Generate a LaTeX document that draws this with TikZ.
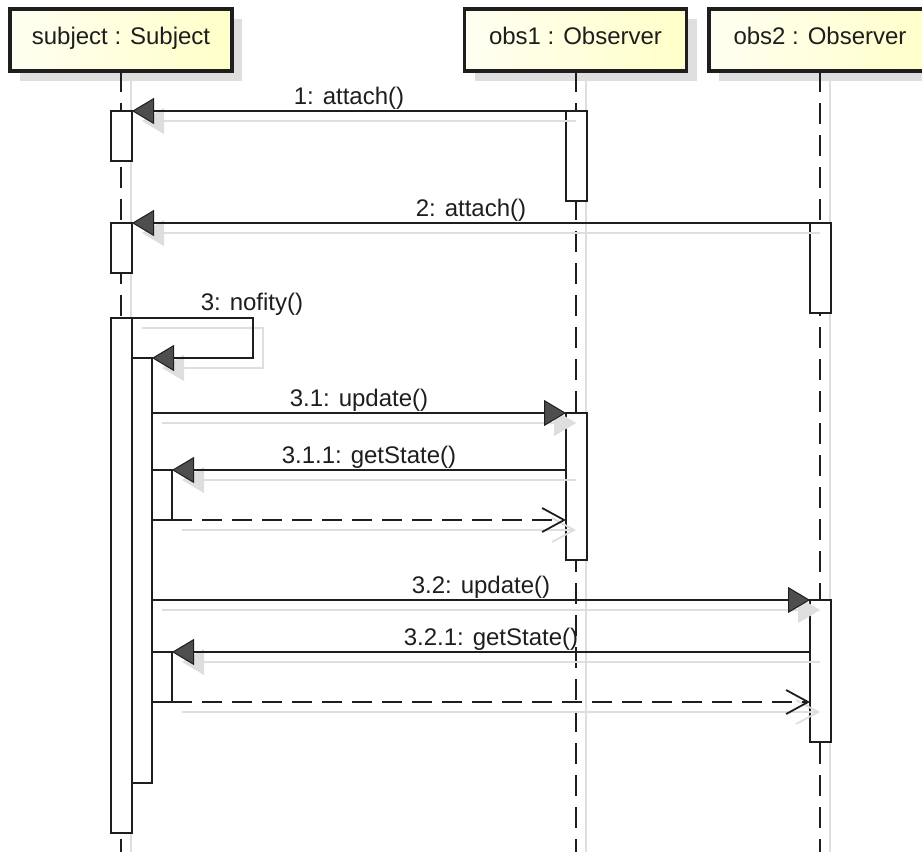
\documentclass[tikz,border=0pt]{standalone}
\usepackage{fontspec}
\setmainfont{Liberation Sans}
\usetikzlibrary{arrows.meta,backgrounds,fit,calc}

\definecolor{headL}{RGB}{255,255,242}
\definecolor{headR}{RGB}{255,255,200}
\definecolor{shade}{RGB}{222,222,222}
\definecolor{ink}{RGB}{30,30,30}
\definecolor{tipfill}{RGB}{78,78,78}
\newcommand\umlfont{\fontsize{24pt}{28pt}\selectfont}

\tikzset{
  head/.style={draw=ink, line width=3.5pt, outer sep=0pt, inner sep=0pt,
    minimum width=222pt, minimum height=62pt,
    left color=headL, right color=headR,
    text height=18pt, text depth=10pt, font=\umlfont, text=ink},
  headshadow/.style={fill=shade},
  lifeline/.style={draw=ink, line width=2pt, dash pattern=on 21pt off 11pt},
  lifeshadow/.style={draw=shade, line width=2pt},
  actbar/.style={draw=ink, fill=white, line width=1.8pt, inner sep=0pt, outer sep=0pt},
  msg/.style={draw=ink, line width=1.8pt,
    -{Triangle[length=22pt,width=26pt,fill=tipfill,line width=1pt]}},
  ret/.style={draw=ink, line width=1.8pt, dash pattern=on 20pt off 10pt,
    -{Straight Barb[length=22pt,width=24pt]}},
  msgshadow/.style={draw=shade, line width=1.8pt,
    transform canvas={shift={(10pt,-10pt)}},
    -{Triangle[length=22pt,width=26pt,fill=shade,line width=1pt]}},
  retshadow/.style={draw=shade, line width=1.8pt,
    transform canvas={shift={(10pt,-10pt)}},
    -{Straight Barb[length=22pt,width=24pt]}},
  msglabel/.style={font=\umlfont, text=ink, inner sep=0pt, anchor=base, yshift=7pt},
}

\begin{document}
\begin{tikzpicture}[x=1pt,y=-1pt]
\useasboundingbox (0,0) rectangle (922,852);
\coordinate (bottom) at (0,852);
\coordinate (selfx) at (253,0);

% lifeline heads
\node[head] (subj) at (121,40) {subject : Subject};
\node[head] (obs1) at (575.5,40) {obs1 : Observer};
\node[head] (obs2) at (820,40) {obs2 : Observer};

% drop shadows of heads and lifelines
\begin{scope}[on background layer]
  \foreach \h in {subj,obs1,obs2}{
    \fill[headshadow] ([shift={(10,10)}]\h.north west) rectangle ([shift={(10,10)}]\h.south east);
    \draw[lifeshadow] ([shift={(10,10)}]\h.south) -- ($(\h.south |- bottom)+(10,0)$);
  }
\end{scope}

% dashed lifelines
\foreach \h in {subj,obs1,obs2}
  \draw[lifeline] (\h.south) -- (\h.south |- bottom);

% activation bars
\node[actbar, fit={(111,111) (132,161)}] (s1) {};
\node[actbar, fit={(566,111) (587,201)}] (o1a1) {};
\node[actbar, fit={(111,223) (132,273)}] (s2) {};
\node[actbar, fit={(810,223) (831,313)}] (o2a1) {};
\node[actbar, fit={(111,318) (132,833)}] (s3) {};
\node[actbar, fit={(132,358) (152,783)}] (s3n) {};
\node[actbar, fit={(152,470) (172,520)}] (g1) {};
\node[actbar, fit={(566,413) (587,560)}] (o1a2) {};
\node[actbar, fit={(810,600) (831,742)}] (o2a2) {};
\node[actbar, fit={(152,652) (172,702)}] (g2) {};

% message shadows
\draw[msgshadow] (o1a1.north west) -- (o1a1.north west -| s1.east);
\draw[msgshadow] (o2a1.north west) -- (o2a1.north west -| s2.east);
\draw[msgshadow] (s3.north east) -- (s3.north east -| selfx) |- (s3n.north east);
\draw[msgshadow] (o1a2.north west -| s3n.east) -- (o1a2.north west);
\draw[msgshadow] (o1a2.west |- g1.north) -- (g1.north east);
\draw[retshadow] (g1.south east) -- (g1.south east -| o1a2.west);
\draw[msgshadow] (o2a2.north west -| s3n.east) -- (o2a2.north west);
\draw[msgshadow] (o2a2.west |- g2.north) -- (g2.north east);
\draw[retshadow] (g2.south east) -- (g2.south east -| o2a2.west);

% messages
\draw[msg] (o1a1.north west) -- node[msglabel] (l1) {1: attach()} (o1a1.north west -| s1.east);
\draw[msg] (o2a1.north west) -- node[msglabel] (l2) {2: attach()} (o2a1.north west -| s2.east);
\draw[msg] (s3.north east) -- (s3.north east -| selfx) |- (s3n.north east);
\node[font=\umlfont, text=ink, inner sep=0pt, anchor=base] (l3) at (252,310) {3: nofity()};
\draw[msg] (o1a2.north west -| s3n.east) -- node[msglabel] (l31) {3.1: update()} (o1a2.north west);
\draw[msg] (o1a2.west |- g1.north) -- node[msglabel] (l311) {3.1.1: getState()} (g1.north east);
\draw[ret] (g1.south east) -- (g1.south east -| o1a2.west);
\draw[msg] (o2a2.north west -| s3n.east) -- node[msglabel] (l32) {3.2: update()} (o2a2.north west);
\draw[msg] (o2a2.west |- g2.north) -- node[msglabel] (l321) {3.2.1: getState()} (g2.north east);
\draw[ret] (g2.south east) -- (g2.south east -| o2a2.west);
\end{tikzpicture}
\end{document}
